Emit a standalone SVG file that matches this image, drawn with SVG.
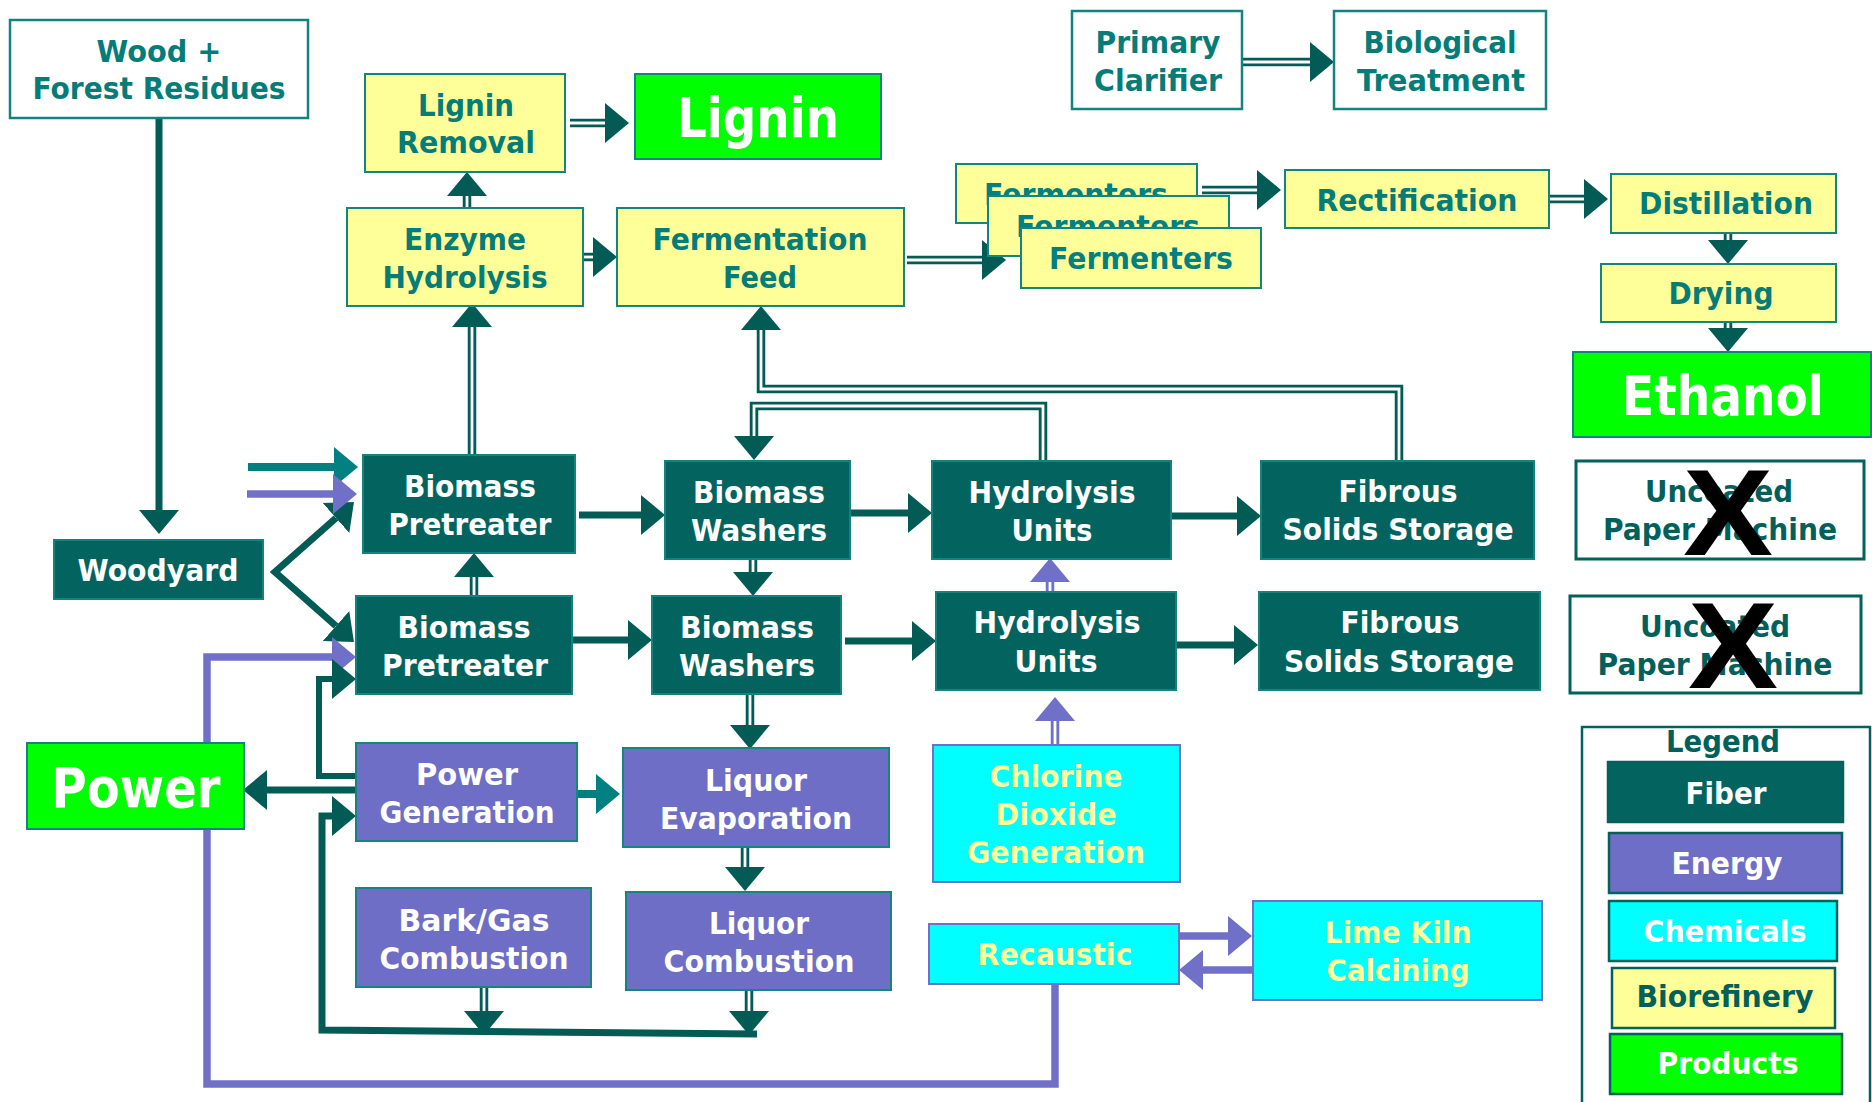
<svg xmlns="http://www.w3.org/2000/svg" width="1872" height="1102" viewBox="0 0 1872 1102">
<defs>
<style>
text{font-family:"DejaVu Sans","Liberation Sans",sans-serif;font-weight:bold;font-size:31px;text-anchor:middle}
.big{font-size:56px}
.tw{fill:#FFFFFF}.tt{fill:#047C77}.ty{fill:#FFFF99}.td{fill:#02605A}.tf{fill:#008080}
.fib{fill:#03645F;stroke:#12837E;stroke-width:2}
.bio{fill:#FFFF99;stroke:#12857F;stroke-width:2}
.eng{fill:#6E6EC6;stroke:#15857F;stroke-width:2}
.chem{fill:#00FFFF;stroke:#7070C8;stroke-width:2}
.prod{fill:#00FF00;stroke:#12837E;stroke-width:2}
.wht{fill:#FFFFFF;stroke:#12837E;stroke-width:2.5}
.unc{fill:#FFFFFF;stroke:#04605B;stroke-width:3}
.leg{stroke:#04605B;stroke-width:2.5}
.xx{font-family:"Liberation Sans","DejaVu Sans",sans-serif;font-size:122px;fill:#000000}
.c{fill:none;stroke:#035B56;stroke-width:7;stroke-linejoin:miter}
.c6{fill:none;stroke:#035B56;stroke-width:6;stroke-linejoin:miter}
.d{fill:none;stroke:#035B56;stroke-width:8.5;stroke-linejoin:miter}
.w{fill:none;stroke:#FFFFFF;stroke-width:2.8;stroke-linejoin:miter}
.p{fill:none;stroke:#7070C8;stroke-width:7.5;stroke-linejoin:miter}
.pd{fill:none;stroke:#7070C8;stroke-width:8.5}
.t{fill:none;stroke:#008080;stroke-width:8}
</style>
<marker id="aD" markerUnits="userSpaceOnUse" markerWidth="26" markerHeight="42" viewBox="0 -21 26 42" refX="0" refY="0" orient="auto-start-reverse"><path d="M0,-20 L24,0 L0,20 Z" fill="#035B56"/></marker>
<marker id="aP" markerUnits="userSpaceOnUse" markerWidth="26" markerHeight="42" viewBox="0 -21 26 42" refX="0" refY="0" orient="auto"><path d="M0,-20 L24,0 L0,20 Z" fill="#7070C8"/></marker>
<marker id="aT" markerUnits="userSpaceOnUse" markerWidth="26" markerHeight="42" viewBox="0 -21 26 42" refX="0" refY="0" orient="auto"><path d="M0,-20 L24,0 L0,20 Z" fill="#008080"/></marker>
</defs>
<rect width="1872" height="1102" fill="#FFFFFF"/>

<g id="connectors">
<path class="c" d="M159,118 V510" marker-end="url(#aD)"/>
<path class="c" d="M336,518 L275,572 L336,626" marker-start="url(#aD)" marker-end="url(#aD)"/>
<path class="t" d="M248,467 H334" marker-end="url(#aT)"/>
<path class="p" d="M247,494 H333" marker-end="url(#aP)"/>
<path class="p" d="M1055,984 V1084 H207 V657 H332" marker-end="url(#aP)"/>
<path class="p" d="M1179,936 H1228" marker-end="url(#aP)"/>
<path class="p" d="M1253,970 H1203" marker-end="url(#aP)"/>
<path class="c" d="M579,515 H641" marker-end="url(#aD)"/>
<path class="c" d="M572,640 H628" marker-end="url(#aD)"/>
<path class="c" d="M850,513 H908" marker-end="url(#aD)"/>
<path class="c" d="M845,641 H912" marker-end="url(#aD)"/>
<path class="c" d="M1171,516 H1237" marker-end="url(#aD)"/>
<path class="c" d="M1176,645 H1234" marker-end="url(#aD)"/>
<path class="t" d="M577,794 H596" marker-end="url(#aT)"/>
<path class="c" d="M356,790 H267" marker-end="url(#aD)"/>
<path class="c6" d="M355,776 H319 V679 H332" marker-end="url(#aD)"/>
<path class="c" d="M757,1034 L322,1030 V816 H332" marker-end="url(#aD)"/>
<!-- double lines -->
<path class="d" d="M472,455 V327" marker-end="url(#aD)"/><path class="w" d="M472,455 V327"/>
<path class="d" d="M467,208 V196" marker-end="url(#aD)"/><path class="w" d="M467,208 V196"/>
<path class="d" d="M570,123 H605" marker-end="url(#aD)"/><path class="w" d="M570,123 H605"/>
<path class="d" d="M584,257 H593" marker-end="url(#aD)"/><path class="w" d="M584,257 H593"/>
<path class="d" d="M907,260 H982" marker-end="url(#aD)"/><path class="w" d="M907,260 H982"/>
<path class="d" d="M1202,190 H1257" marker-end="url(#aD)"/><path class="w" d="M1202,190 H1257"/>
<path class="d" d="M1550,199 H1584" marker-end="url(#aD)"/><path class="w" d="M1550,199 H1584"/>
<path class="d" d="M1728,233 V240" marker-end="url(#aD)"/><path class="w" d="M1728,233 V240"/>
<path class="d" d="M1728,323 V328" marker-end="url(#aD)"/><path class="w" d="M1728,323 V328"/>
<path class="d" d="M1242,62 H1310" marker-end="url(#aD)"/><path class="w" d="M1242,62 H1310"/>
<path class="d" d="M474,596 V577" marker-end="url(#aD)"/><path class="w" d="M474,596 V577"/>
<path class="d" d="M753,559 V572" marker-end="url(#aD)"/><path class="w" d="M753,559 V572"/>
<path class="d" d="M750,694 V725" marker-end="url(#aD)"/><path class="w" d="M750,694 V725"/>
<path class="d" d="M1399,461 V389 H761 V330" marker-end="url(#aD)"/><path class="w" d="M1399,461 V389 H761 V330"/>
<path class="d" d="M1043,461 V406 H754 V436" marker-end="url(#aD)"/><path class="w" d="M1043,461 V406 H754 V436"/>
<path class="d" d="M484,986 V1011" marker-end="url(#aD)"/><path class="w" d="M484,986 V1011"/>
<path class="d" d="M749,990 V1011" marker-end="url(#aD)"/><path class="w" d="M749,990 V1011"/>
<path class="d" d="M745,846 V867" marker-end="url(#aD)"/><path class="w" d="M745,846 V867"/>
<path class="pd" d="M1050,592 V582" marker-end="url(#aP)"/><path class="w" d="M1050,592 V582"/>
<path class="pd" d="M1055,745 V721" marker-end="url(#aP)"/><path class="w" d="M1055,745 V721"/>
</g>

<g id="wood"><rect class="wht" x="10" y="20" width="298" height="98"/>
<text class="tt" x="159" y="62" textLength="125" lengthAdjust="spacingAndGlyphs">Wood +</text>
<text class="tt" x="159" y="99" textLength="253" lengthAdjust="spacingAndGlyphs">Forest Residues</text></g>

<g id="woodyard"><rect class="fib" x="54" y="540" width="209" height="59"/>
<text class="tw" x="158" y="581" textLength="161" lengthAdjust="spacingAndGlyphs">Woodyard</text></g>

<g id="lignin-removal"><rect class="bio" x="365" y="74" width="200" height="98"/>
<text class="tt" x="466" y="116" textLength="96" lengthAdjust="spacingAndGlyphs">Lignin</text>
<text class="tt" x="466" y="153" textLength="138" lengthAdjust="spacingAndGlyphs">Removal</text></g>

<g id="lignin"><rect class="prod" x="635" y="74" width="246" height="85"/>
<text class="tw big" x="758" y="137" textLength="162" lengthAdjust="spacingAndGlyphs">Lignin</text></g>

<g id="enzyme-hydrolysis"><rect class="bio" x="347" y="208" width="236" height="98"/>
<text class="tt" x="465" y="250" textLength="122" lengthAdjust="spacingAndGlyphs">Enzyme</text>
<text class="tt" x="465" y="288" textLength="165" lengthAdjust="spacingAndGlyphs">Hydrolysis</text></g>

<g id="fermentation-feed"><rect class="bio" x="617" y="208" width="287" height="98"/>
<text class="tt" x="760" y="250" textLength="215" lengthAdjust="spacingAndGlyphs">Fermentation</text>
<text class="tt" x="760" y="288" textLength="74" lengthAdjust="spacingAndGlyphs">Feed</text></g>

<g id="fermenters-1"><rect class="bio" x="956" y="164" width="241" height="59"/>
<text class="tf" x="1076" y="205" textLength="184" lengthAdjust="spacingAndGlyphs">Fermenters</text></g>
<g id="fermenters-2"><rect class="bio" x="988" y="196" width="241" height="60"/>
<text class="tf" x="1108" y="237" textLength="184" lengthAdjust="spacingAndGlyphs">Fermenters</text></g>
<g id="fermenters-3"><rect class="bio" x="1021" y="228" width="240" height="60"/>
<text class="tf" x="1141" y="269" textLength="184" lengthAdjust="spacingAndGlyphs">Fermenters</text></g>

<g id="rectification"><rect class="bio" x="1285" y="170" width="264" height="58"/>
<text class="tt" x="1417" y="211" textLength="201" lengthAdjust="spacingAndGlyphs">Rectification</text></g>
<g id="distillation"><rect class="bio" x="1611" y="174" width="225" height="59"/>
<text class="tt" x="1726" y="214" textLength="174" lengthAdjust="spacingAndGlyphs">Distillation</text></g>
<g id="drying"><rect class="bio" x="1601" y="264" width="235" height="58"/>
<text class="tt" x="1721" y="304" textLength="105" lengthAdjust="spacingAndGlyphs">Drying</text></g>
<g id="ethanol"><rect class="prod" x="1573" y="352" width="298" height="85"/>
<text class="tw big" x="1723" y="415" textLength="202" lengthAdjust="spacingAndGlyphs">Ethanol</text></g>

<g id="primary-clarifier"><rect class="wht" x="1072" y="11" width="170" height="98"/>
<text class="tt" x="1158" y="53" textLength="125" lengthAdjust="spacingAndGlyphs">Primary</text>
<text class="tt" x="1158" y="91" textLength="128" lengthAdjust="spacingAndGlyphs">Clarifier</text></g>
<g id="biological-treatment"><rect class="wht" x="1334" y="11" width="212" height="98"/>
<text class="tt" x="1440" y="53" textLength="153" lengthAdjust="spacingAndGlyphs">Biological</text>
<text class="tt" x="1441" y="91" textLength="168" lengthAdjust="spacingAndGlyphs">Treatment</text></g>

<g id="pretreater-1"><rect class="fib" x="363" y="455" width="212" height="98"/>
<text class="tw" x="470" y="497" textLength="132" lengthAdjust="spacingAndGlyphs">Biomass</text>
<text class="tw" x="470" y="535" textLength="163" lengthAdjust="spacingAndGlyphs">Pretreater</text></g>
<g id="washers-1"><rect class="fib" x="665" y="461" width="185" height="98"/>
<text class="tw" x="759" y="503" textLength="132" lengthAdjust="spacingAndGlyphs">Biomass</text>
<text class="tw" x="759" y="541" textLength="136" lengthAdjust="spacingAndGlyphs">Washers</text></g>
<g id="hydrolysis-1"><rect class="fib" x="932" y="461" width="239" height="98"/>
<text class="tw" x="1052" y="503" textLength="167" lengthAdjust="spacingAndGlyphs">Hydrolysis</text>
<text class="tw" x="1052" y="541" textLength="81" lengthAdjust="spacingAndGlyphs">Units</text></g>
<g id="fibrous-1"><rect class="fib" x="1261" y="461" width="273" height="98"/>
<text class="tw" x="1398" y="502" textLength="119" lengthAdjust="spacingAndGlyphs">Fibrous</text>
<text class="tw" x="1398" y="540" textLength="231" lengthAdjust="spacingAndGlyphs">Solids Storage</text></g>
<g id="paper-machine-1"><rect class="unc" x="1576" y="461" width="288" height="98"/>
<text class="td" x="1719" y="502" textLength="148" lengthAdjust="spacingAndGlyphs">Uncoated</text>
<text class="td" x="1720" y="540" textLength="234" lengthAdjust="spacingAndGlyphs">Paper Machine</text>
<text class="xx" x="1728" y="555" textLength="90" lengthAdjust="spacingAndGlyphs">X</text></g>

<g id="pretreater-2"><rect class="fib" x="356" y="596" width="216" height="98"/>
<text class="tw" x="464" y="638" textLength="133" lengthAdjust="spacingAndGlyphs">Biomass</text>
<text class="tw" x="465" y="676" textLength="166" lengthAdjust="spacingAndGlyphs">Pretreater</text></g>
<g id="washers-2"><rect class="fib" x="652" y="596" width="189" height="98"/>
<text class="tw" x="747" y="638" textLength="134" lengthAdjust="spacingAndGlyphs">Biomass</text>
<text class="tw" x="747" y="676" textLength="136" lengthAdjust="spacingAndGlyphs">Washers</text></g>
<g id="hydrolysis-2"><rect class="fib" x="936" y="592" width="240" height="98"/>
<text class="tw" x="1057" y="633" textLength="167" lengthAdjust="spacingAndGlyphs">Hydrolysis</text>
<text class="tw" x="1056" y="672" textLength="83" lengthAdjust="spacingAndGlyphs">Units</text></g>
<g id="fibrous-2"><rect class="fib" x="1259" y="592" width="281" height="98"/>
<text class="tw" x="1400" y="633" textLength="119" lengthAdjust="spacingAndGlyphs">Fibrous</text>
<text class="tw" x="1399" y="672" textLength="230" lengthAdjust="spacingAndGlyphs">Solids Storage</text></g>
<g id="paper-machine-2"><rect class="unc" x="1570" y="596" width="291" height="97"/>
<text class="td" x="1715" y="637" textLength="150" lengthAdjust="spacingAndGlyphs">Uncoated</text>
<text class="td" x="1715" y="675" textLength="235" lengthAdjust="spacingAndGlyphs">Paper Machine</text>
<text class="xx" x="1733" y="688" textLength="90" lengthAdjust="spacingAndGlyphs">X</text></g>

<g id="power"><rect class="prod" x="27" y="743" width="217" height="86"/>
<text class="tw big" x="136" y="807" textLength="169" lengthAdjust="spacingAndGlyphs">Power</text></g>
<g id="power-generation"><rect class="eng" x="356" y="743" width="221" height="98"/>
<text class="tw" x="467" y="785" textLength="102" lengthAdjust="spacingAndGlyphs">Power</text>
<text class="tw" x="467" y="823" textLength="175" lengthAdjust="spacingAndGlyphs">Generation</text></g>
<g id="liquor-evaporation"><rect class="eng" x="623" y="748" width="266" height="99"/>
<text class="tw" x="756" y="791" textLength="102" lengthAdjust="spacingAndGlyphs">Liquor</text>
<text class="tw" x="756" y="829" textLength="192" lengthAdjust="spacingAndGlyphs">Evaporation</text></g>
<g id="bark-gas-combustion"><rect class="eng" x="356" y="888" width="235" height="99"/>
<text class="tw" x="474" y="931" textLength="151" lengthAdjust="spacingAndGlyphs">Bark/Gas</text>
<text class="tw" x="474" y="969" textLength="189" lengthAdjust="spacingAndGlyphs">Combustion</text></g>
<g id="liquor-combustion"><rect class="eng" x="626" y="892" width="265" height="98"/>
<text class="tw" x="759" y="934" textLength="100" lengthAdjust="spacingAndGlyphs">Liquor</text>
<text class="tw" x="759" y="972" textLength="191" lengthAdjust="spacingAndGlyphs">Combustion</text></g>
<g id="chlorine-dioxide"><rect class="chem" x="933" y="745" width="247" height="137"/>
<text class="ty" x="1056" y="787" textLength="133" lengthAdjust="spacingAndGlyphs">Chlorine</text>
<text class="ty" x="1056" y="825" textLength="121" lengthAdjust="spacingAndGlyphs">Dioxide</text>
<text class="ty" x="1056" y="863" textLength="178" lengthAdjust="spacingAndGlyphs">Generation</text></g>
<g id="recaustic"><rect class="chem" x="929" y="924" width="250" height="60"/>
<text class="ty" x="1055" y="965" textLength="155" lengthAdjust="spacingAndGlyphs">Recaustic</text></g>
<g id="lime-kiln"><rect class="chem" x="1253" y="901" width="289" height="99"/>
<text class="ty" x="1398" y="943" textLength="147" lengthAdjust="spacingAndGlyphs">Lime Kiln</text>
<text class="ty" x="1398" y="981" textLength="143" lengthAdjust="spacingAndGlyphs">Calcining</text></g>

<g id="legend">
<rect x="1582" y="727" width="288" height="420" fill="#FFFFFF" stroke="#04605B" stroke-width="2.5"/>
<text class="td" x="1723" y="752" textLength="114" lengthAdjust="spacingAndGlyphs">Legend</text>
<rect class="leg" x="1608" y="762" width="235" height="60" fill="#03645F"/>
<text class="tw" x="1726" y="804" textLength="81" lengthAdjust="spacingAndGlyphs">Fiber</text>
<rect class="leg" x="1609" y="833" width="233" height="60" fill="#6E6EC6"/>
<text class="tw" x="1727" y="874" textLength="111" lengthAdjust="spacingAndGlyphs">Energy</text>
<rect class="leg" x="1609" y="901" width="228" height="60" fill="#00FFFF"/>
<text class="tw" x="1725" y="942" textLength="163" lengthAdjust="spacingAndGlyphs">Chemicals</text>
<rect class="leg" x="1612" y="968" width="223" height="60" fill="#FFFF99"/>
<text class="td" x="1725" y="1007" textLength="177" lengthAdjust="spacingAndGlyphs">Biorefinery</text>
<rect class="leg" x="1610" y="1034" width="232" height="60" fill="#00FF00"/>
<text class="tw" x="1728" y="1074" textLength="141" lengthAdjust="spacingAndGlyphs">Products</text>
</g>
</svg>
